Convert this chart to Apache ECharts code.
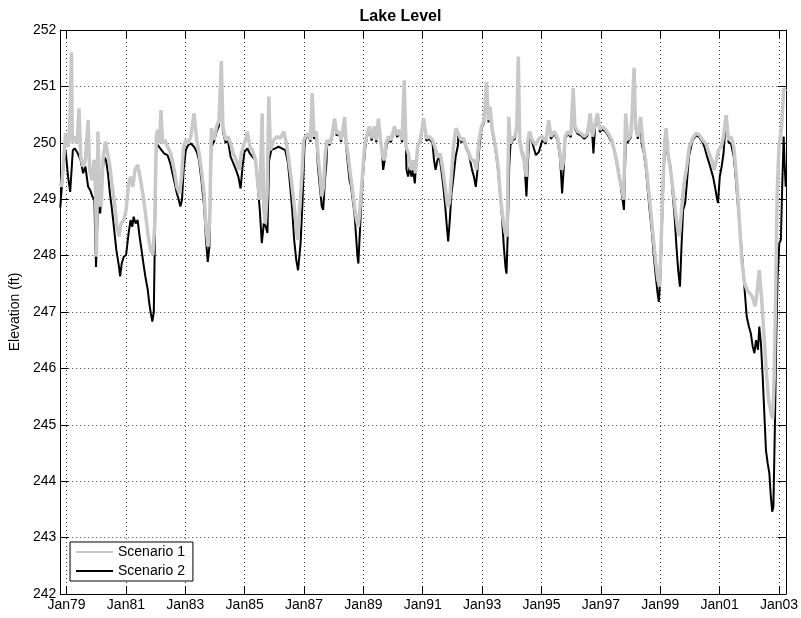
<!DOCTYPE html>
<html>
<head>
<meta charset="utf-8">
<title>Lake Level</title>
<script src="https://cdn.jsdelivr.net/npm/echarts@6/dist/echarts.min.js"></script>
<style>
  html, body { margin: 0; padding: 0; background: #fff; }
  #chart { width: 801px; height: 618px; }
</style>
</head>
<body>
<div id="chart"></div>
<script>
// x axis ticks (every two years)
const tickDates = ["1979-01-01", "1981-01-01", "1983-01-01", "1985-01-01", "1987-01-01", "1989-01-01", "1991-01-01",
  "1993-01-01", "1995-01-01", "1997-01-01", "1999-01-01", "2001-01-01", "2003-01-01"];
const tickLabels = ["Jan79", "Jan81", "Jan83", "Jan85", "Jan87", "Jan89", "Jan91",
  "Jan93", "Jan95", "Jan97", "Jan99", "Jan01", "Jan03"];
const yTicks = [242, 243, 244, 245, 246, 247, 248, 249, 250, 251, 252];

// Scenario 1 (grey), elevation in ft
const scenario1 = [
  ["1978-10-16", 249.3], ["1978-11-01", 249.22], ["1978-11-20", 249.52], ["1978-12-20", 250.17],
  ["1979-01-20", 249.93], ["1979-02-10", 250.29], ["1979-03-03", 251.6], ["1979-03-14", 249.99],
  ["1979-04-12", 250.11], ["1979-05-11", 250.0], ["1979-06-03", 250.61], ["1979-06-25", 249.75],
  ["1979-07-24", 249.58], ["1979-08-21", 249.69], ["1979-09-24", 250.4], ["1979-10-12", 249.52],
  ["1979-11-10", 249.34], ["1979-12-06", 249.7], ["1979-12-25", 249.1], ["1980-01-05", 247.98],
  ["1980-01-22", 250.2], ["1980-02-13", 248.99], ["1980-03-03", 248.87], ["1980-03-24", 249.7],
  ["1980-04-23", 250.02], ["1980-05-15", 250.0], ["1980-06-12", 249.64], ["1980-07-12", 249.28],
  ["1980-08-14", 248.93], ["1980-09-12", 248.51], ["1980-10-08", 248.34], ["1980-11-03", 248.57],
  ["1980-12-05", 248.63], ["1981-01-03", 248.81], ["1981-02-03", 249.28], ["1981-02-27", 249.4],
  ["1981-03-26", 249.22], ["1981-04-23", 249.52], ["1981-05-25", 249.61], ["1981-06-24", 249.4],
  ["1981-07-27", 249.1], ["1981-08-24", 248.81], ["1981-09-27", 248.4], ["1981-10-30", 248.1],
  ["1981-11-28", 248.01], ["1981-12-20", 248.5], ["1982-01-10", 250.11], ["1982-01-26", 250.23],
  ["1982-02-20", 249.99], ["1982-03-08", 250.58], ["1982-03-28", 249.99], ["1982-04-26", 250.05],
  ["1982-05-28", 249.93], ["1982-07-08", 249.81], ["1982-08-18", 249.52], ["1982-09-20", 249.22],
  ["1982-10-23", 249.1], ["1982-11-17", 249.4], ["1982-12-10", 249.93], ["1983-01-08", 250.05],
  ["1983-02-05", 249.99], ["1983-03-10", 250.11], ["1983-04-19", 250.52], ["1983-05-22", 250.05],
  ["1983-06-20", 249.81], ["1983-07-19", 249.52], ["1983-08-21", 249.1], ["1983-09-13", 248.51],
  ["1983-10-08", 248.16], ["1983-10-29", 248.63], ["1983-11-18", 250.26], ["1983-12-20", 250.05],
  ["1984-01-22", 250.29], ["1984-02-20", 250.4], ["1984-03-20", 251.45], ["1984-04-08", 250.29],
  ["1984-05-11", 250.05], ["1984-06-09", 250.11], ["1984-07-12", 249.99], ["1984-08-14", 249.81],
  ["1984-09-20", 249.69], ["1984-10-23", 249.52], ["1984-11-22", 249.81], ["1984-12-25", 249.99],
  ["1985-01-13", 250.05], ["1985-02-03", 250.2], ["1985-03-06", 249.93], ["1985-04-08", 249.87],
  ["1985-05-15", 249.69], ["1985-06-12", 249.28], ["1985-07-06", 248.99], ["1985-08-04", 250.52],
  ["1985-08-25", 248.81], ["1985-09-13", 248.57], ["1985-10-04", 249.1], ["1985-10-25", 250.82],
  ["1985-11-14", 249.87], ["1985-12-25", 250.05], ["1986-02-03", 250.11], ["1986-03-17", 250.08],
  ["1986-04-27", 250.2], ["1986-05-30", 249.99], ["1986-06-28", 249.69], ["1986-07-24", 249.4],
  ["1986-08-26", 248.99], ["1986-09-20", 248.63], ["1986-10-15", 248.28], ["1986-11-10", 248.87],
  ["1986-12-05", 249.4], ["1986-12-28", 250.05], ["1987-01-16", 250.1], ["1987-02-18", 250.17],
  ["1987-03-22", 250.05], ["1987-04-12", 250.88], ["1987-05-04", 250.11], ["1987-06-01", 250.2],
  ["1987-06-28", 249.69], ["1987-07-19", 249.4], ["1987-08-08", 249.05], ["1987-08-29", 249.22],
  ["1987-09-20", 249.81], ["1987-10-12", 250.05], ["1987-11-10", 249.99], ["1987-12-10", 250.11],
  ["1988-01-12", 250.43], ["1988-02-06", 250.17], ["1988-03-08", 250.2], ["1988-04-01", 250.05],
  ["1988-04-22", 250.2], ["1988-05-14", 250.46], ["1988-06-03", 249.99], ["1988-06-24", 249.81],
  ["1988-07-23", 249.46], ["1988-08-15", 249.22], ["1988-09-13", 248.87], ["1988-10-08", 248.63],
  ["1988-10-30", 248.51], ["1988-11-18", 248.81], ["1988-12-13", 249.28], ["1989-01-15", 249.93],
  ["1989-02-17", 250.17], ["1989-03-16", 250.29], ["1989-04-12", 250.08], ["1989-05-15", 250.29],
  ["1989-06-09", 250.05], ["1989-07-05", 250.43], ["1989-07-31", 250.05], ["1989-08-27", 249.75],
  ["1989-09-16", 249.69], ["1989-10-08", 249.99], ["1989-11-04", 250.11], ["1989-12-06", 250.05],
  ["1990-01-19", 250.29], ["1990-02-21", 250.14], ["1990-03-25", 250.23], ["1990-04-23", 250.05],
  ["1990-05-18", 251.11], ["1990-06-09", 249.93], ["1990-07-08", 249.81], ["1990-08-11", 249.52],
  ["1990-09-06", 249.69], ["1990-10-04", 249.46], ["1990-10-30", 249.93], ["1990-12-01", 250.05],
  ["1991-01-12", 250.43], ["1991-02-14", 250.08], ["1991-03-22", 250.11], ["1991-05-01", 250.05],
  ["1991-05-30", 249.93], ["1991-07-01", 249.75], ["1991-08-04", 249.81], ["1991-09-06", 249.52],
  ["1991-10-04", 249.22], ["1991-11-02", 248.87], ["1991-11-25", 248.93], ["1991-12-20", 249.4],
  ["1992-01-14", 249.93], ["1992-02-13", 250.26], ["1992-03-13", 250.17], ["1992-04-16", 250.05],
  ["1992-05-19", 250.08], ["1992-06-18", 249.93], ["1992-07-26", 249.81], ["1992-08-22", 249.69],
  ["1992-09-24", 249.69], ["1992-10-23", 249.52], ["1992-11-24", 250.05], ["1992-12-24", 250.29],
  ["1993-01-26", 250.4], ["1993-02-24", 251.08], ["1993-03-20", 250.4], ["1993-04-08", 250.64],
  ["1993-05-05", 250.23], ["1993-05-30", 250.05], ["1993-06-27", 249.81], ["1993-07-20", 249.52],
  ["1993-08-17", 248.99], ["1993-09-16", 248.63], ["1993-10-11", 248.4], ["1993-11-04", 248.34],
  ["1993-11-25", 250.46], ["1993-12-12", 249.99], ["1994-01-10", 250.08], ["1994-02-08", 250.11],
  ["1994-03-03", 250.29], ["1994-03-22", 251.53], ["1994-04-08", 250.05], ["1994-05-07", 249.81],
  ["1994-05-30", 249.69], ["1994-06-28", 249.4], ["1994-07-19", 250.05], ["1994-08-08", 250.2],
  ["1994-09-09", 250.05], ["1994-10-20", 249.96], ["1994-12-01", 250.08], ["1995-01-12", 250.11],
  ["1995-02-22", 250.02], ["1995-03-31", 250.4], ["1995-04-27", 250.11], ["1995-06-09", 250.2],
  ["1995-07-20", 250.08], ["1995-08-17", 249.81], ["1995-09-09", 249.52], ["1995-09-30", 249.69],
  ["1995-10-20", 250.11], ["1995-11-22", 250.2], ["1995-12-28", 250.14], ["1996-01-26", 250.97],
  ["1996-02-16", 250.29], ["1996-03-20", 250.2], ["1996-05-01", 250.17], ["1996-06-11", 250.11],
  ["1996-07-21", 250.17], ["1996-08-22", 250.52], ["1996-09-20", 250.11], ["1996-10-23", 250.35],
  ["1996-11-20", 250.52], ["1996-12-20", 250.23], ["1997-01-20", 250.29], ["1997-03-03", 250.23],
  ["1997-04-12", 250.14], ["1997-05-15", 250.05], ["1997-06-14", 249.87], ["1997-07-13", 249.69],
  ["1997-08-12", 249.4], ["1997-09-13", 249.22], ["1997-10-08", 248.99], ["1997-11-02", 250.52],
  ["1997-11-28", 250.05], ["1998-01-04", 250.14], ["1998-01-23", 250.58], ["1998-02-13", 251.33],
  ["1998-03-04", 250.29], ["1998-04-01", 250.11], ["1998-05-04", 250.46], ["1998-06-03", 249.99],
  ["1998-07-05", 249.69], ["1998-08-07", 249.22], ["1998-09-05", 248.81], ["1998-10-02", 248.4],
  ["1998-11-04", 247.92], ["1998-12-03", 247.57], ["1998-12-24", 247.45], ["1999-01-12", 248.22],
  ["1999-02-03", 249.22], ["1999-02-24", 249.99], ["1999-03-15", 250.26], ["1999-04-08", 249.81],
  ["1999-05-08", 249.52], ["1999-06-03", 249.22], ["1999-07-05", 248.81], ["1999-07-31", 248.51],
  ["1999-08-25", 248.34], ["1999-09-20", 248.81], ["1999-10-16", 249.22], ["1999-11-18", 249.52],
  ["1999-12-25", 249.93], ["2000-02-03", 250.08], ["2000-03-17", 250.17], ["2000-04-26", 250.14],
  ["2000-06-05", 250.05], ["2000-07-16", 249.99], ["2000-08-25", 249.81], ["2000-09-27", 249.69],
  ["2000-10-27", 249.52], ["2000-11-22", 249.69], ["2000-12-19", 249.87], ["2001-01-22", 249.93],
  ["2001-02-18", 250.11], ["2001-03-22", 250.49], ["2001-04-20", 250.05], ["2001-05-22", 250.11],
  ["2001-06-24", 249.93], ["2001-07-27", 249.4], ["2001-08-29", 248.69], ["2001-10-01", 247.92],
  ["2001-11-03", 247.51], ["2001-12-06", 247.39], ["2002-01-08", 247.33], ["2002-02-09", 247.27],
  ["2002-03-13", 247.1], ["2002-04-05", 247.33], ["2002-05-04", 247.74], ["2002-06-03", 247.21],
  ["2002-07-02", 246.56], ["2002-07-31", 245.91], ["2002-08-27", 245.44], ["2002-09-26", 245.2],
  ["2002-10-16", 245.11], ["2002-11-04", 245.85], ["2002-11-22", 247.33], ["2002-12-10", 249.1],
  ["2003-01-01", 249.93], ["2003-02-03", 250.29], ["2003-02-28", 250.97], ["2003-03-24", 250.91]
];

// Scenario 2 (black), elevation in ft
const scenario2 = [
  ["1978-10-16", 248.85], ["1978-11-01", 248.87], ["1978-11-20", 249.52], ["1978-12-20", 249.87],
  ["1979-01-20", 249.4], ["1979-02-15", 249.13], ["1979-03-20", 249.87], ["1979-04-15", 249.9],
  ["1979-05-20", 249.81], ["1979-06-25", 249.69], ["1979-07-24", 249.46], ["1979-08-21", 249.58],
  ["1979-09-24", 249.22], ["1979-10-20", 249.16], ["1979-11-14", 249.05], ["1979-12-10", 248.99],
  ["1979-12-30", 247.8], ["1980-01-22", 248.87], ["1980-02-20", 248.75], ["1980-03-12", 249.4],
  ["1980-04-09", 249.75], ["1980-05-02", 249.69], ["1980-05-25", 249.46], ["1980-06-18", 249.1],
  ["1980-07-09", 248.87], ["1980-07-28", 248.63], ["1980-08-18", 248.34], ["1980-09-05", 248.1],
  ["1980-10-08", 247.8], ["1980-10-22", 247.63], ["1980-11-10", 247.86], ["1980-12-05", 247.98],
  ["1981-01-03", 248.01], ["1981-02-03", 248.4], ["1981-02-27", 248.63], ["1981-03-20", 248.51],
  ["1981-04-06", 248.69], ["1981-04-30", 248.57], ["1981-05-25", 248.63], ["1981-06-18", 248.34],
  ["1981-07-12", 248.1], ["1981-08-04", 247.86], ["1981-08-28", 247.63], ["1981-09-27", 247.39],
  ["1981-10-16", 247.15], ["1981-11-03", 246.98], ["1981-11-22", 246.83], ["1981-12-10", 247.0],
  ["1981-12-28", 248.81], ["1982-01-08", 249.99], ["1982-02-12", 249.93], ["1982-03-15", 249.87],
  ["1982-04-18", 249.81], ["1982-05-28", 249.78], ["1982-06-30", 249.64], ["1982-07-28", 249.46],
  ["1982-08-25", 249.28], ["1982-09-20", 249.1], ["1982-10-13", 248.99], ["1982-11-02", 248.87],
  ["1982-11-22", 248.99], ["1982-12-12", 249.52], ["1983-01-08", 249.87], ["1983-02-05", 249.96],
  ["1983-03-10", 249.99], ["1983-04-19", 249.93], ["1983-05-22", 249.84], ["1983-06-20", 249.69],
  ["1983-07-19", 249.34], ["1983-08-21", 248.87], ["1983-09-13", 248.28], ["1983-10-05", 247.89],
  ["1983-10-25", 248.16], ["1983-11-18", 249.93], ["1983-12-20", 250.02], ["1984-01-22", 250.2],
  ["1984-02-20", 250.3], ["1984-03-20", 251.4], ["1984-04-08", 250.2], ["1984-05-11", 250.0],
  ["1984-06-09", 250.05], ["1984-07-12", 249.75], ["1984-08-14", 249.64], ["1984-09-16", 249.52],
  ["1984-10-15", 249.4], ["1984-11-12", 249.19], ["1984-12-06", 249.58], ["1984-12-30", 249.84],
  ["1985-02-03", 249.9], ["1985-03-06", 249.81], ["1985-04-08", 249.75], ["1985-05-15", 249.69],
  ["1985-06-12", 249.22], ["1985-07-06", 248.81], ["1985-07-31", 248.22], ["1985-08-25", 248.57],
  ["1985-09-18", 248.51], ["1985-10-08", 248.4], ["1985-10-29", 249.69], ["1985-11-25", 249.87],
  ["1986-01-12", 249.9], ["1986-02-22", 249.93], ["1986-04-04", 249.9], ["1986-05-15", 249.87],
  ["1986-06-18", 249.64], ["1986-07-16", 249.22], ["1986-08-09", 248.81], ["1986-09-02", 248.28],
  ["1986-09-28", 247.92], ["1986-10-20", 247.74], ["1986-11-20", 248.22], ["1986-12-15", 249.0],
  ["1987-01-05", 249.87], ["1987-01-16", 250.06], ["1987-02-18", 250.13], ["1987-03-22", 250.02],
  ["1987-04-12", 250.8], ["1987-05-04", 250.07], ["1987-06-01", 250.15], ["1987-06-20", 249.6],
  ["1987-07-15", 249.22], ["1987-08-08", 248.87], ["1987-08-25", 248.81], ["1987-09-16", 249.34],
  ["1987-10-04", 249.64], ["1987-10-12", 250.0], ["1987-11-10", 249.96], ["1987-12-10", 250.07],
  ["1988-01-12", 250.38], ["1988-02-06", 250.13], ["1988-03-08", 250.16], ["1988-04-01", 250.02],
  ["1988-04-22", 250.16], ["1988-05-14", 250.4], ["1988-06-03", 249.95], ["1988-06-15", 249.75],
  ["1988-07-14", 249.34], ["1988-08-03", 249.22], ["1988-08-22", 248.99], ["1988-09-13", 248.75],
  ["1988-10-03", 248.34], ["1988-10-20", 247.98], ["1988-10-31", 247.86], ["1988-11-18", 248.4],
  ["1988-12-08", 248.99], ["1989-01-01", 249.52], ["1989-01-25", 249.93], ["1989-02-17", 250.13],
  ["1989-03-16", 250.25], ["1989-04-12", 250.04], ["1989-05-15", 250.25], ["1989-06-09", 250.01],
  ["1989-07-05", 250.38], ["1989-07-31", 250.01], ["1989-08-15", 249.9], ["1989-09-01", 249.52],
  ["1989-09-20", 249.69], ["1989-10-15", 249.96], ["1989-11-04", 250.07], ["1989-12-06", 250.01],
  ["1990-01-19", 250.25], ["1990-02-21", 250.1], ["1990-03-25", 250.19], ["1990-04-23", 250.01],
  ["1990-05-18", 251.05], ["1990-06-09", 249.9], ["1990-06-15", 249.52], ["1990-07-05", 249.4],
  ["1990-07-25", 249.58], ["1990-08-15", 249.4], ["1990-09-05", 249.52], ["1990-09-25", 249.28],
  ["1990-10-15", 249.69], ["1990-11-05", 249.96], ["1990-12-01", 250.01], ["1991-01-12", 250.38],
  ["1991-02-14", 250.04], ["1991-03-22", 250.07], ["1991-05-01", 250.0], ["1991-05-20", 249.69],
  ["1991-06-08", 249.52], ["1991-07-01", 249.69], ["1991-07-25", 249.75], ["1991-08-18", 249.52],
  ["1991-09-12", 249.22], ["1991-10-05", 248.87], ["1991-10-25", 248.51], ["1991-11-10", 248.25],
  ["1991-11-30", 248.63], ["1991-12-20", 249.1], ["1992-01-10", 249.34], ["1992-02-10", 249.75],
  ["1992-03-10", 249.96], ["1992-03-13", 250.13], ["1992-04-16", 250.01], ["1992-05-19", 250.04],
  ["1992-06-18", 249.9], ["1992-07-26", 249.78], ["1992-08-05", 249.69], ["1992-08-30", 249.52],
  ["1992-09-22", 249.4], ["1992-10-15", 249.22], ["1992-11-05", 249.52], ["1992-11-30", 249.96],
  ["1992-12-24", 250.25], ["1993-01-26", 250.36], ["1993-02-24", 251.03], ["1993-03-20", 250.36],
  ["1993-04-08", 250.6], ["1993-05-05", 250.19], ["1993-05-30", 250.01], ["1993-06-15", 249.87],
  ["1993-07-15", 249.52], ["1993-08-10", 249.1], ["1993-09-02", 248.69], ["1993-09-25", 248.16],
  ["1993-10-15", 247.8], ["1993-10-28", 247.68], ["1993-11-12", 248.4], ["1993-11-30", 249.58],
  ["1993-12-15", 249.96], ["1994-01-10", 250.04], ["1994-02-08", 250.07], ["1994-03-03", 250.25],
  ["1994-03-22", 251.48], ["1994-04-08", 250.01], ["1994-05-07", 249.85], ["1994-05-20", 249.81],
  ["1994-06-10", 249.52], ["1994-06-30", 249.05], ["1994-07-20", 249.69], ["1994-08-08", 250.16],
  ["1994-09-09", 250.01], ["1994-09-30", 249.9], ["1994-10-25", 249.78], ["1994-12-01", 249.84],
  ["1995-01-12", 250.05], ["1995-02-22", 249.98], ["1995-03-31", 250.35], ["1995-04-27", 250.07],
  ["1995-06-09", 250.16], ["1995-07-20", 250.04], ["1995-08-20", 249.69], ["1995-09-12", 249.1],
  ["1995-10-03", 249.58], ["1995-10-20", 250.07], ["1995-11-22", 250.16], ["1995-12-28", 250.1],
  ["1996-01-26", 250.9], ["1996-02-16", 250.25], ["1996-03-20", 250.16], ["1996-05-01", 250.13],
  ["1996-06-11", 250.07], ["1996-07-21", 250.13], ["1996-08-22", 250.45], ["1996-09-20", 250.07],
  ["1996-10-01", 249.81], ["1996-10-23", 250.3], ["1996-11-20", 250.45], ["1996-12-20", 250.19],
  ["1997-01-20", 250.25], ["1997-03-03", 250.19], ["1997-04-12", 250.1], ["1997-05-15", 250.01],
  ["1997-06-14", 249.87], ["1997-07-13", 249.64], ["1997-08-05", 249.52], ["1997-08-30", 249.28],
  ["1997-09-25", 248.99], ["1997-10-12", 248.81], ["1997-11-02", 249.99], ["1997-11-28", 250.01],
  ["1998-01-04", 250.1], ["1998-01-23", 250.5], ["1998-02-13", 251.25], ["1998-03-04", 250.25],
  ["1998-04-01", 250.07], ["1998-05-04", 250.4], ["1998-05-20", 249.96], ["1998-06-15", 249.81],
  ["1998-07-10", 249.52], ["1998-08-05", 249.1], ["1998-08-28", 248.75], ["1998-09-22", 248.4],
  ["1998-10-15", 247.98], ["1998-11-08", 247.63], ["1998-11-30", 247.33], ["1998-12-15", 247.18],
  ["1999-01-05", 247.68], ["1999-01-25", 248.63], ["1999-02-15", 249.58], ["1999-03-05", 249.99],
  ["1999-04-08", 249.75], ["1999-05-08", 249.58], ["1999-06-03", 249.1], ["1999-06-27", 248.69],
  ["1999-07-20", 248.16], ["1999-08-10", 247.74], ["1999-09-01", 247.45], ["1999-09-20", 248.16],
  ["1999-10-10", 248.81], ["1999-11-04", 248.93], ["1999-11-28", 249.34], ["1999-12-20", 249.75],
  ["2000-01-25", 249.99], ["2000-02-03", 250.04], ["2000-03-17", 250.13], ["2000-04-26", 250.1],
  ["2000-06-05", 250.01], ["2000-06-28", 249.93], ["2000-08-01", 249.75], ["2000-08-25", 249.64],
  ["2000-09-18", 249.52], ["2000-10-12", 249.4], ["2000-11-05", 249.22], ["2000-11-25", 249.05],
  ["2000-12-12", 248.93], ["2001-01-03", 249.4], ["2001-01-26", 249.58], ["2001-02-18", 249.81],
  ["2001-03-22", 250.45], ["2001-04-20", 250.01], ["2001-05-22", 249.98], ["2001-06-24", 249.75],
  ["2001-07-10", 249.52], ["2001-08-02", 249.1], ["2001-08-29", 248.63], ["2001-09-22", 248.22],
  ["2001-10-15", 247.8], ["2001-11-08", 247.33], ["2001-11-30", 246.92], ["2001-12-28", 246.74],
  ["2002-01-20", 246.62], ["2002-02-12", 246.39], ["2002-03-05", 246.27], ["2002-03-25", 246.5],
  ["2002-04-18", 246.33], ["2002-05-04", 246.74], ["2002-05-24", 246.45], ["2002-06-15", 245.85],
  ["2002-07-05", 245.2], ["2002-07-25", 244.55], ["2002-08-15", 244.32], ["2002-09-05", 244.14],
  ["2002-09-20", 243.79], ["2002-10-10", 243.46], ["2002-10-25", 243.55], ["2002-11-12", 244.97],
  ["2002-11-28", 246.45], ["2002-12-15", 247.63], ["2003-01-05", 248.22], ["2003-01-25", 248.28],
  ["2003-02-10", 249.22], ["2003-02-28", 250.11], ["2003-03-10", 249.69], ["2003-03-25", 249.22]
];

window.addEventListener("load", function () {
  let myChart = echarts.init(document.getElementById("chart"));
  const font = "'Liberation Sans', Arial, sans-serif";
  const toTime = function (d) { return new Date(d).getTime(); };
  const xMin = toTime("1978-10-16");
  const xMax = toTime("2003-03-28");
  const xTicks = tickDates.map(toTime);

  // value axis on timestamps, ticks placed on the Jan dates
  function xAxisCfg(pos, showLabel) {
    return {
      type: "value",
      position: pos,
      min: xMin,
      max: xMax,
      axisLine: { onZero: false, lineStyle: { color: "#000", width: 1 } },
      axisTick: { inside: true, length: 8, customValues: xTicks, lineStyle: { color: "#000" } },
      axisLabel: {
        show: showLabel,
        customValues: xTicks,
        color: "#000",
        fontFamily: font,
        fontSize: 14,
        margin: 4,
        formatter: function (v) {
          let i = xTicks.indexOf(v);
          return i >= 0 ? tickLabels[i] : "";
        }
      },
      splitLine: {
        show: showLabel,
        lineStyle: { color: "#333", type: [1, 3], width: 1 }
      }
    };
  }

  function yAxisCfg(pos, showLabel) {
    return {
      type: "value",
      position: pos,
      min: yTicks[0],
      max: yTicks[yTicks.length - 1],
      interval: 1,
      name: showLabel ? "Elevation (ft)" : "",
      nameLocation: "middle",
      nameGap: 33,
      nameTextStyle: { color: "#000", fontFamily: font, fontSize: 14 },
      axisLine: { show: true, lineStyle: { color: "#000", width: 1 } },
      axisTick: { show: true, inside: true, length: 8, lineStyle: { color: "#000" } },
      axisLabel: { show: showLabel, color: "#000", fontFamily: font, fontSize: 14, margin: 4 },
      splitLine: {
        show: showLabel,
        lineStyle: { color: "#333", type: [1, 3], width: 1 }
      }
    };
  }

  let option = {
    animation: false,
    backgroundColor: "#fff",
    title: {
      text: "Lake Level",
      left: "center",
      top: 4,
      textStyle: { color: "#000", fontFamily: font, fontSize: 16, fontWeight: "bold" }
    },
    legend: {
      orient: "vertical",
      left: 70,
      top: 542,
      data: [
        { name: "Scenario 1", icon: "rect" },
        { name: "Scenario 2", icon: "rect" }
      ],
      itemWidth: 37,
      itemHeight: 2,
      itemGap: 5,
      padding: [3, 8, 3, 6],
      borderColor: "#000",
      borderWidth: 1,
      backgroundColor: "#fff",
      textStyle: { color: "#000", fontFamily: font, fontSize: 14 }
    },
    grid: { left: 58, right: 14, top: 30, bottom: 24, containLabel: false },
    xAxis: [xAxisCfg("bottom", true), xAxisCfg("top", false)],
    yAxis: [yAxisCfg("left", true), yAxisCfg("right", false)],
    series: [
      {
        name: "Scenario 2",
        type: "line",
        data: scenario2.map(function (p) { return [toTime(p[0]), p[1]]; }),
        showSymbol: false,
        z: 2,
        color: "#000",
        lineStyle: { color: "#000", width: 2 }
      },
      {
        name: "Scenario 1",
        type: "line",
        data: scenario1.map(function (p) { return [toTime(p[0]), p[1]]; }),
        showSymbol: false,
        z: 3,
        color: "#c8c8c8",
        lineStyle: { color: "#c8c8c8", width: 3.5 }
      }
    ]
  };

  myChart.setOption(option);
  window.addEventListener("resize", function () {
    myChart.resize();
  });
});
</script>
</body>
</html>
